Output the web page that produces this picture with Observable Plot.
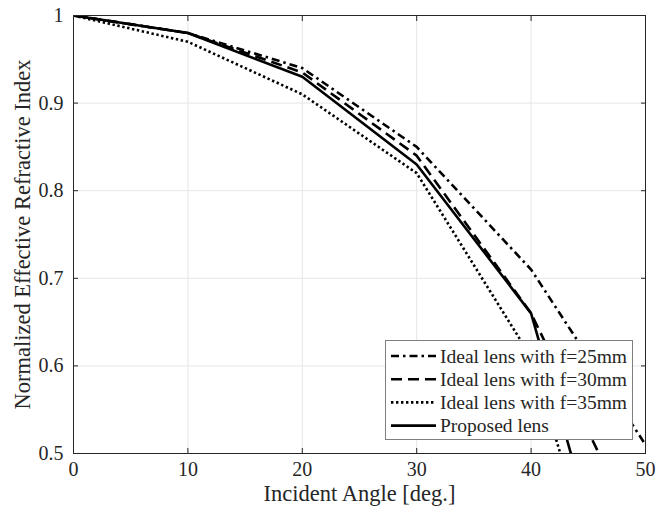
<!DOCTYPE html>
<html>
<head>
<meta charset="utf-8">
<script src="https://cdn.jsdelivr.net/npm/d3@7"></script>
<script src="https://cdn.jsdelivr.net/npm/@observablehq/plot@0.6"></script>
<style>
  html, body { margin: 0; padding: 0; background: #fff; }
  #chart { position: relative; width: 656px; height: 515px; }
</style>
</head>
<body>
<div id="chart"></div>
<script>
const angles = [0, 10, 20, 30, 40, 50];
const ideal25 = [1, 0.98, 0.94, 0.85, 0.71, 0.51];
const ideal30 = [1, 0.98, 0.935, 0.84, 0.66, 0.39];
const ideal35 = [1, 0.97, 0.91, 0.82, 0.61, 0.18];
const proposedLens = [1, 0.98, 0.93, 0.83, 0.66, 0.2];

const seriesNames = ["Ideal lens with f=25mm", "Ideal lens with f=30mm", "Ideal lens with f=35mm", "Proposed lens"];
const seriesValues = [ideal25, ideal30, ideal35, proposedLens];
const seriesDash = ["8,4,2.5,4", "11,6", "2.4,2.6", null];

const xTicks = [0, 10, 20, 30, 40, 50];
const xTickLabels = ["0", "10", "20", "30", "40", "50"];
const yTicks = [0.5, 0.6, 0.7, 0.8, 0.9, 1];
const yTickLabels = ["0.5", "0.6", "0.7", "0.8", "0.9", "1"];

const FONT = "Liberation Serif";
const INK = "#262626";

const series = seriesNames.map((name, i) => angles.map((a, j) => ({x: a, y: seriesValues[i][j], name})));

const W = 656, H = 515;
const mL = 73, mR = 11, mT = 15, mB = 62;

const lineMarks = series.map((d, i) => Plot.line(d, {
  x: "x", y: "y", stroke: "black", strokeWidth: 2.6,
  strokeLinecap: "butt", strokeLinejoin: "miter",
  strokeDasharray: seriesDash[i] ?? undefined, clip: true
}));

const plot = Plot.plot({
  width: W, height: H,
  marginLeft: mL, marginRight: mR, marginTop: mT, marginBottom: mB,
  style: {fontFamily: FONT, fontSize: "20px", color: INK, background: "white"},
  x: {domain: [0, 50], ticks: xTicks},
  y: {domain: [0.5, 1], ticks: yTicks},
  marks: [
    Plot.gridX(xTicks, {stroke: "#e6e6e6", strokeOpacity: 1, strokeWidth: 1}),
    Plot.gridY(yTicks, {stroke: "#e6e6e6", strokeOpacity: 1, strokeWidth: 1}),
    ...lineMarks,
    Plot.frame({stroke: INK, strokeWidth: 1}),
    Plot.axisX(xTicks, {anchor: "bottom", tickSize: -5, tickFormat: null, text: null, label: null, stroke: INK}),
    Plot.axisX(xTicks, {anchor: "top", tickSize: -5, tickFormat: null, text: null, label: null, stroke: INK}),
    Plot.axisY(yTicks, {anchor: "left", tickSize: -5, tickFormat: null, text: null, label: null, stroke: INK}),
    Plot.axisY(yTicks, {anchor: "right", tickSize: -5, tickFormat: null, text: null, label: null, stroke: INK}),
    Plot.text(xTicks, {x: (d) => d, text: (d, i) => xTickLabels[i], frameAnchor: "bottom", dy: 22, fontSize: 20, fontFamily: FONT, fill: INK, textAnchor: "middle"}),
    Plot.text(yTicks, {y: (d) => d, text: (d, i) => yTickLabels[i], frameAnchor: "left", dx: -10, fontSize: 20, fontFamily: FONT, fill: INK, textAnchor: "end"}),
    Plot.text(["Incident Angle [deg.]"], {frameAnchor: "bottom", dy: 47, fontSize: 22.5, fontFamily: FONT, fill: INK, textAnchor: "middle"}),
    Plot.text(["Normalized Effective Refractive Index"], {frameAnchor: "left", dx: -51, rotate: -90, fontSize: 22.5, fontFamily: FONT, fill: INK, textAnchor: "middle"})
  ]
});

document.getElementById("chart").appendChild(plot);

// Legend (inside the plot, lower right)
const svg = d3.select(plot);
const lx = 385, ly = 340, lw = 247, lh = 99;
const g = svg.append("g").attr("font-family", FONT).attr("text-anchor", "start");
g.append("rect").attr("x", lx + 0.5).attr("y", ly + 0.5).attr("width", lw).attr("height", lh)
  .attr("fill", "white").attr("stroke", "#7f7f7f").attr("stroke-width", 1);
seriesNames.forEach((name, i) => {
  const cy = ly + 16 + i * 23.2;
  const ln = g.append("line").attr("x1", lx + 6).attr("x2", lx + 51).attr("y1", cy).attr("y2", cy)
    .attr("stroke", "black").attr("stroke-width", 2.6).attr("stroke-linecap", "butt");
  if (seriesDash[i]) ln.attr("stroke-dasharray", seriesDash[i]);
  g.append("text").attr("x", lx + 55).attr("y", cy).attr("dy", "0.34em")
    .attr("font-size", 19.5).attr("fill", INK).text(name);
});
</script>
</body>
</html>
